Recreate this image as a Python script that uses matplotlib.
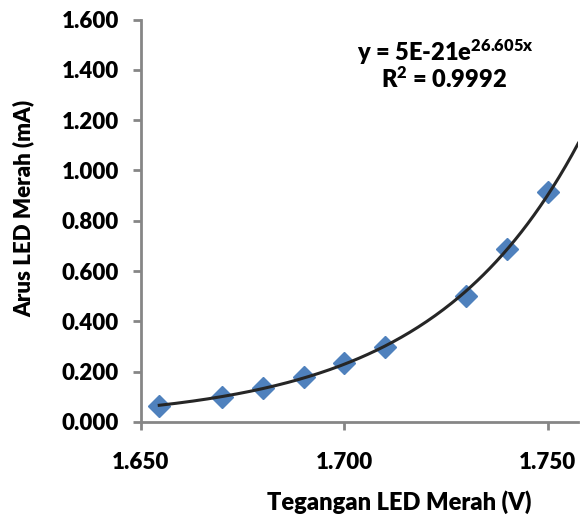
import numpy as np
import matplotlib
matplotlib.use("Agg")
import matplotlib.pyplot as plt
from matplotlib.ticker import FormatStrFormatter

# measured data points
tegangan = [1.6545, 1.670, 1.680, 1.690, 1.700, 1.710, 1.730, 1.740, 1.750]
arus = [0.065, 0.100, 0.134, 0.178, 0.236, 0.298, 0.502, 0.688, 0.914]

x_ticks = [1.650, 1.700, 1.750]
y_ticks = [0.0, 0.2, 0.4, 0.6, 0.8, 1.0, 1.2, 1.4, 1.6]

eq_text = "y = 5E-21e$^{26.605x}$"
r2_text = "R$^{2}$ = 0.9992"

plt.rcParams['font.family'] = ['Lato', 'DejaVu Sans']
plt.rcParams['font.weight'] = 'heavy'
plt.rcParams['mathtext.default'] = 'regular'

fig = plt.figure(figsize=(5.8, 5.17), dpi=100)
ax = fig.add_axes([0.243, 0.184, 0.754, 0.778])

# exponential trendline (fit on log of current)
b, ln_a = np.polyfit(tegangan, np.log(arus), 1)
xt = np.linspace(tegangan[0], 1.7575, 200)
ax.plot(xt, np.exp(ln_a) * np.exp(b * xt), color='#262626', lw=2.2, zorder=3)

ax.plot(tegangan, arus, linestyle='none', marker='D', ms=11.5,
        color='#4F81BD', markeredgecolor='#4F81BD', zorder=2)

ax.set_xlim(1.650, 1.7575)
ax.set_ylim(0, 1.6)
ax.set_xticks(x_ticks)
ax.set_yticks(y_ticks)
ax.xaxis.set_major_formatter(FormatStrFormatter('%.3f'))
ax.yaxis.set_major_formatter(FormatStrFormatter('%.3f'))

for s in ['top', 'right']:
    ax.spines[s].set_visible(False)
for s in ['left', 'bottom']:
    ax.spines[s].set_color('#868686')
    ax.spines[s].set_linewidth(2)
ax.tick_params(direction='out', length=6, width=2, color='#868686',
               labelsize=16)
ax.tick_params(axis='x', pad=16)
ax.tick_params(axis='y', pad=10)
for lab in ax.get_xticklabels() + ax.get_yticklabels():
    lab.set_fontweight('heavy')

ax.set_xlabel('Tegangan LED Merah (V)', fontsize=17, fontweight='heavy', labelpad=10)
ax.xaxis.set_label_coords(0.59, -0.17)
ax.set_ylabel('Arus LED Merah (mA)', fontsize=16, fontweight='heavy')
ax.yaxis.set_label_coords(-0.243, 0.53)

ax.text(0.495, 0.918, eq_text, transform=ax.transAxes, fontsize=17,
        fontweight='heavy', va='center')
ax.text(0.548, 0.851, r2_text, transform=ax.transAxes, fontsize=17,
        fontweight='heavy', va='center')

fig.savefig('out.png', dpi=100)
